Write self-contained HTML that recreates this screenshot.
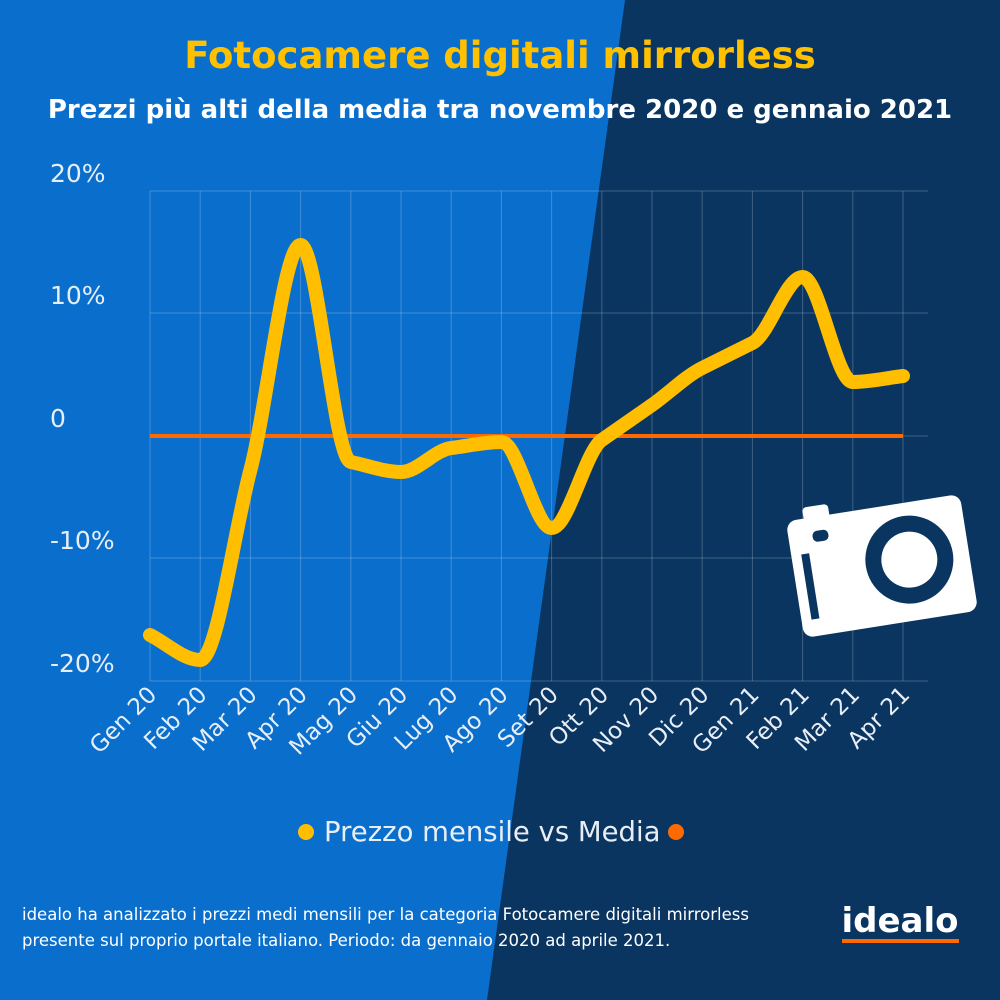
<!DOCTYPE html>
<html><head><meta charset="utf-8"><style>
html,body{margin:0;padding:0;width:1000px;height:1000px;overflow:hidden;font-family:"Liberation Sans","DejaVu Sans",sans-serif}
</style></head><body>
<svg id="s" width="1000" height="1000" viewBox="0 0 1000 1000" xmlns="http://www.w3.org/2000/svg" font-family="'DejaVu Sans','Liberation Sans',sans-serif">
<rect width="1000" height="1000" fill="#0A6FCC"/>
<polygon points="625,0 1000,0 1000,1000 487,1000" fill="#0A3560"/>
<text x="500" y="68" text-anchor="middle" fill="#FFC000" font-size="37" font-weight="bold">Fotocamere digitali mirrorless</text>
<text x="500" y="118" text-anchor="middle" fill="#fff" font-size="26" font-weight="bold">Prezzi più alti della media tra novembre 2020 e gennaio 2021</text>
<g id="grid" stroke="#ffffff" stroke-opacity="0.22" stroke-width="1"></g>
<g fill="#E8EEF6" font-size="25">
<text x="50" y="182">20%</text>
<text x="50" y="304">10%</text>
<text x="50" y="427">0</text>
<text x="50" y="549">-10%</text>
<text x="50" y="672">-20%</text>
</g>
<g id="xl" fill="#E8EEF6" font-size="23"></g>
<line x1="150" y1="436" x2="903" y2="436" stroke="#FF6A00" stroke-width="4"/>
<path id="curve" fill="none" stroke="#FFBF00" stroke-width="14" stroke-linecap="round" stroke-linejoin="round"/>
<g transform="translate(882,566) rotate(-9)">
<rect x="-88" y="-59" width="176" height="118" rx="10" fill="#fff"/>
<rect x="-70" y="-70" width="26" height="16" rx="4" fill="#fff"/>
<rect x="-64" y="-45" width="16" height="11" rx="5" fill="#0A3560"/>
<rect x="-78" y="-24" width="8" height="66" fill="#0A3560"/>
<circle cx="28" cy="-2" r="44" fill="#0A3560"/>
<circle cx="28" cy="-2" r="28" fill="#fff"/>
</g>
<circle cx="306" cy="832" r="8" fill="#FFBF00"/>
<text x="324" y="841" fill="#E8EEF6" font-size="27.5">Prezzo mensile vs Media</text>
<circle cx="676" cy="832" r="8" fill="#FF6A00"/>
<text x="22" y="920" fill="#fff" font-size="16.5">idealo ha analizzato i prezzi medi mensili per la categoria Fotocamere digitali mirrorless</text>
<text x="22" y="946" fill="#fff" font-size="16.5">presente sul proprio portale italiano. Periodo: da gennaio 2020 ad aprile 2021.</text>
<text x="900" y="932" text-anchor="middle" fill="#fff" font-size="34" font-weight="bold">idealo</text>
<rect x="842" y="939" width="117" height="4" fill="#FF6A00"/>
</svg>
<script>
var ns="http://www.w3.org/2000/svg";
var labels=["Gen 20","Feb 20","Mar 20","Apr 20","Mag 20","Giu 20","Lug 20","Ago 20","Set 20","Ott 20","Nov 20","Dic 20","Gen 21","Feb 21","Mar 21","Apr 21"];
var ys=[635,660,470,245,462,472,448,442,528,440,405,368,343,277,382,376];
var g=document.getElementById("grid"),xl=document.getElementById("xl");
function X(i){return 150+i*50.2;}
[191,313,436,558,681].forEach(function(y){var l=document.createElementNS(ns,"line");l.setAttribute("x1",150);l.setAttribute("x2",928);l.setAttribute("y1",y);l.setAttribute("y2",y);g.appendChild(l);});
for(var i=0;i<16;i++){var l=document.createElementNS(ns,"line");l.setAttribute("x1",X(i));l.setAttribute("x2",X(i));l.setAttribute("y1",191);l.setAttribute("y2",681);g.appendChild(l);
var t=document.createElementNS(ns,"text");t.setAttribute("text-anchor","end");t.setAttribute("transform","translate("+(X(i)+8)+",696) rotate(-45)");t.textContent=labels[i];xl.appendChild(t);}
// monotone X interpolation
var n=ys.length,h=50.2,s=[],m=[];
for(var i=0;i<n-1;i++)s.push((ys[i+1]-ys[i])/h);
for(var i=0;i<n;i++){
 if(i==0)m.push(s[0]);else if(i==n-1)m.push(s[n-2]);
 else{ if(s[i-1]*s[i]<=0)m.push(0); else {var a=s[i-1],b=s[i];m.push(Math.sign(a)*Math.min(Math.abs(a),Math.abs(b),0.5*Math.abs((a+b)/2)*3>0?Math.min(3*Math.min(Math.abs(a),Math.abs(b)),Math.abs((a+b)/2)):0));} }
}
var d="M"+X(0)+","+ys[0];
for(var i=0;i<n-1;i++){var x0=X(i),x1=X(i+1);
d+=" C"+(x0+h/3)+","+(ys[i]+m[i]*h/3)+" "+(x1-h/3)+","+(ys[i+1]-m[i+1]*h/3)+" "+x1+","+ys[i+1];}
document.getElementById("curve").setAttribute("d",d);
</script>
</body></html>
